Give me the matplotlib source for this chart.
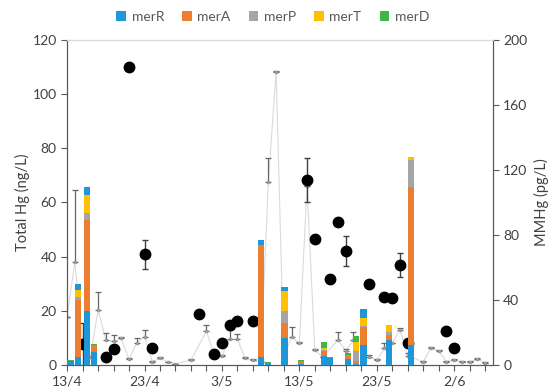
import datetime as dt
import matplotlib
matplotlib.use("Agg")
import matplotlib.pyplot as plt
import numpy as np

plt.rcParams['font.family'] = ['Lato', 'DejaVu Sans']

start = dt.date(2014, 4, 13)

# stacked mer gene bars, x = days after 13/4
bar_days = [0.45, 1.45, 2.6, 3.45, 25.0, 26.0, 28.1, 30.2, 33.2, 34.0, 36.3, 37.3, 38.3, 41.6, 44.4]
merR = [1.3, 3.0, 20.0, 4.8, 3.0, 0.3, 10.0, 0.3, 3.5, 2.5, 2.2, 0.3, 7.4, 9.2, 7.2]
merA = [0, 21.0, 33.5, 2.7, 41.3, 0, 5.6, 1.3, 1.5, 0, 1.6, 1.0, 6.7, 1.8, 58.6]
merP = [0, 1.0, 2.5, 0, 0, 0, 4.3, 0, 0.5, 0, 0, 4.0, 0.4, 1.3, 9.8]
merT = [0, 2.5, 6.7, 0, 0, 0, 7.3, 0, 0.8, 0, 0, 3.3, 2.9, 2.5, 1.3]
merD = [0.7, 0, 0, 0.3, 0, 0.8, 0, 0.2, 2.2, 0.6, 0.5, 2.2, 0, 0, 0]
cap = [0, 2.5, 3.0, 0, 1.8, 0, 1.6, 0, 0, 0, 0, 0, 3.3, 0, 0]

# Total Hg (ng/L), black dots
hg_days = [2, 5, 6, 8, 10, 11, 17, 19, 20, 21, 22, 24, 31, 32, 34, 35, 36, 39, 41, 42, 43, 44, 49, 50]
hg = [7.7, 3.1, 5.9, 110, 40.8, 6.1, 18.8, 4.0, 8.2, 14.8, 16.4, 16.1, 68.3, 46.5, 31.6, 52.6,
      42.2, 29.8, 25.2, 24.8, 36.9, 8.0, 12.7, 6.4]
hg_err = [7.8, 0, 0, 0, 5.2, 0, 0, 0, 0, 0, 0, 0, 8.0, 0, 0, 0, 5.5, 0, 0, 0, 4.5, 0, 0, 0]

# MMHg (pg/L), grey line
mm_days = [0, 1, 2, 3, 4, 5, 6, 7, 8, 9, 10, 11, 12, 13, 14, 16, 18, 19, 20, 21, 22, 23, 24, 25,
           26, 27, 28, 29, 30, 31, 32, 33, 35, 36, 37, 39, 40, 41, 42, 43, 44, 46, 47, 48, 49,
           50, 51, 52, 53, 54]
mmhg = [29.7, 63.3, 13.3, 5.0, 33.8, 15.5, 14.5, 16.3, 3.5, 13.7, 17.5, 2.0, 4.2, 2.0, 0.7, 3.0,
        20.7, 6.7, 5.5, 15.8, 15.8, 4.2, 3.0, 1.7, 112.5, 180.3, 5.0, 17.5, 13.3, 110.0, 9.0,
        5.0, 15.3, 8.8, 15.3, 5.2, 3.0, 10.2, 13.3, 21.7, 5.8, 2.0, 10.2, 8.8, 2.0, 3.0, 2.0,
        1.7, 3.5, 1.5]
mm_err = [0, 44.3, 0, 0, 11.2, 4.2, 3.8, 0.8, 0.5, 2.8, 4.0, 0.5, 0.5, 0, 0, 0.5, 3.7, 0, 0.5,
          5.7, 3.3, 0.5, 0.5, 0, 14.5, 0.8, 0, 6.0, 0.8, 0, 0.8, 0, 5.0, 0.8, 5.0, 0.8, 0.5,
          3.2, 0, 0.8, 1.7, 0.5, 0.8, 0.5, 0.5, 0.5, 0.5, 0.5, 0.5, 0.5]

names = ['merR', 'merA', 'merP', 'merT', 'merD']
colors = ['#1E96D8', '#ED7D31', '#A5A5A5', '#FFC000', '#3DB54A']
txt = '#595959'

fig = plt.figure(figsize=(5.5, 3.89), dpi=100)
ax = fig.add_axes([0.122, 0.0617, 0.774, 0.836])
ax2 = ax.twinx()
ax.set_zorder(ax2.get_zorder() + 1)
ax.patch.set_visible(False)

# grey MMHg series behind everything
ax2.plot(mm_days, mmhg, color='#DADADA', lw=0.8, zorder=1)
ax2.errorbar(mm_days, mmhg, yerr=[np.zeros(len(mm_err)), mm_err], fmt='s', ms=1.8,
             color='#9A9A9A', ecolor='#666666', elinewidth=0.9, capsize=2, capthick=0.9, zorder=2)

# black Total Hg dots
ax.errorbar(hg_days, hg, yerr=hg_err, fmt='o', ms=7.5, color='black', ecolor='#404040',
            elinewidth=1, capsize=2.5, capthick=1, zorder=2)

# stacked bars on top
bottom = np.zeros(len(bar_days))
handles = []
for name, vals, c in zip(names, [merR, merA, merP, merT, merD], colors):
    b = ax.bar(bar_days, vals, width=0.8, bottom=bottom, color=c, linewidth=0, zorder=3)
    handles.append(b)
    bottom += np.array(vals)
ax.bar(bar_days, cap, width=0.8, bottom=bottom, color=colors[0], linewidth=0, zorder=3)

ax.set_xlim(0, 55)
ax.set_ylim(0, 120)
ax2.set_ylim(0, 200)
ax.set_yticks(range(0, 121, 20))
ax2.set_yticks(range(0, 201, 40))
ax.set_xticks(range(0, 55, 10))
ax.set_xticklabels([f"{(start + dt.timedelta(days=d)).day}/{(start + dt.timedelta(days=d)).month}"
                    for d in range(0, 55, 10)])
ax.set_xticks(range(0, 56, 2), minor=True)

for a in (ax, ax2):
    a.tick_params(which='both', direction='out', length=4, width=0.8, color=txt,
                  labelcolor='#404040', labelsize=10)
    for s in a.spines.values():
        s.set_color(txt)
        s.set_linewidth(0.8)
    a.spines['top'].set_color('#D9D9D9')

ax.set_ylabel('Total Hg (ng/L)', fontsize=10.5, color='#404040', labelpad=2)
ax2.set_ylabel('MMHg (pg/L)', fontsize=10.5, color='#404040', labelpad=5)

fig.legend(handles, names, loc='center', bbox_to_anchor=(0.496, 0.956), ncol=5, frameon=False,
           fontsize=10, handlelength=0.7, handleheight=0.7, handletextpad=0.4, columnspacing=1.3,
           labelcolor=txt)

fig.savefig('out.png', dpi=100)
